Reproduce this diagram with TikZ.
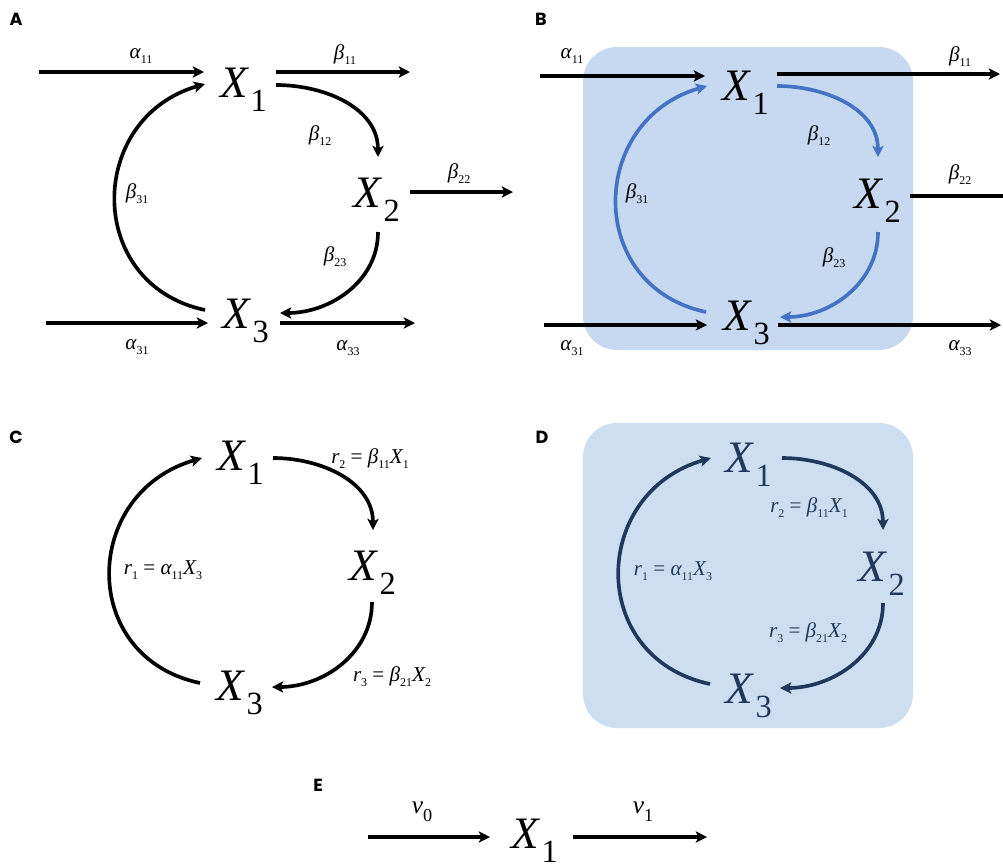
\documentclass[tikz,border=0pt]{standalone}
\usepackage{fontspec}
\setmainfont{Liberation Serif}
\newfontfamily\panelfont{Poppins}
\usetikzlibrary{arrows.meta,calc}

\definecolor{boxblue}{RGB}{198,217,240}
\definecolor{boxgrey}{RGB}{205,222,240}
\definecolor{flowblue}{RGB}{68,114,196}
\definecolor{navy}{RGB}{32,56,90}

% species X_i with a big lowered index
\newcommand{\spec}[1]{{\fontsize{32}{32}\selectfont\itshape X}\kern2pt\raisebox{-10.5pt}{\fontsize{23}{23}\selectfont #1}}
% coefficient with small index
\newcommand{\coef}[2]{{\itshape #1}\raisebox{-3.5pt}{\fontsize{8.5}{8.5}\selectfont #2}}
% rate law r_i = k X_j
\newcommand{\ratelaw}[4]{\coef{r}{#1}~=~\coef{#2}{#3}\coef{X}{#4}}

\begin{document}
\begin{tikzpicture}[
  x=0.025cm, y=-0.025cm,
  % styles
  species/.style={inner sep=0, anchor=base west},
  coeflabel/.style={inner sep=0, font=\fontsize{15}{15}\selectfont},
  vlabel/.style={inner sep=0, font=\fontsize{18}{18}\selectfont},
  panel/.style={inner sep=0, font=\panelfont\bfseries\fontsize{12.5}{12.5}\selectfont},
  flow/.style={line width=2.6pt, -{Stealth[length=8pt,width=8pt,inset=2pt]}},
  plain/.style={line width=2.6pt}
]
\useasboundingbox (0,0) rectangle (1003,864);

% shaded boxes
\fill[boxblue, rounded corners=0.85cm] (583,47) rectangle (913,350);
\fill[boxgrey, rounded corners=0.85cm] (583,423) rectangle (913,728);

% panel letters
\node[panel] (pA) at (16,19)   {A};
\node[panel] (pB) at (541,19)  {B};
\node[panel] (pC) at (16,437)  {C};
\node[panel] (pD) at (542,437) {D};
\node[panel] (pE) at (318,785) {E};

% ---------- panel A ----------
\node[species] (A1) at (220,97)  {\spec{1}};
\node[species] (A2) at (353,207) {\spec{2}};
\node[species] (A3) at (222,328) {\spec{3}};

\coordinate (inA1)  at (39,72);
\coordinate (outA1) at (410,72);
\coordinate (outA2) at (513,192);
\coordinate (inA3)  at (46,323);
\coordinate (outA3) at (415,323);

\draw[flow] (inA1) -- ($(A1.base west)+(-16,-25)$);
\draw[flow] ($(A1.base west)+(56,-25)$) -- (outA1);
\draw[flow] ($(A1.base west)+(56,-12)$) to[out=0,in=90] ($(A2.base west)+(25,-50)$);
\draw[flow] ($(A2.base west)+(57,-15)$) -- (outA2);
\draw[flow] ($(A2.base west)+(25,25)$) to[out=-90,in=0] ($(A3.base west)+(58,-15)$);
\draw[flow] ($(A3.base west)+(-17,-18)$) to[out=168,in=196,looseness=1.4] ($(A1.base west)+(-15,-13)$);
\draw[flow] (inA3) -- ($(A3.base west)+(-14,-5)$);
\draw[flow] ($(A3.base west)+(58,-5)$) -- (outA3);

\node[coeflabel] (a11A) at (141,56)  {\coef{α}{11}};
\node[coeflabel] (b11A) at (345,55)  {\coef{β}{11}};
\node[coeflabel] (b12A) at (320,136) {\coef{β}{12}};
\node[coeflabel] (b22A) at (459,174) {\coef{β}{22}};
\node[coeflabel] (b31A) at (137,194) {\coef{β}{31}};
\node[coeflabel] (b23A) at (335,257) {\coef{β}{23}};
\node[coeflabel] (a31A) at (137,347) {\coef{α}{31}};
\node[coeflabel] (a33A) at (348,348) {\coef{α}{33}};

% ---------- panel B ----------
\node[species] (B1) at (722,100) {\spec{1}};
\node[species] (B2) at (854,208) {\spec{2}};
\node[species] (B3) at (723,330) {\spec{3}};

\coordinate (inB1)  at (540,76);
\coordinate (outB1) at (1000,74);
\coordinate (outB2) at (1003,196);
\coordinate (inB3)  at (544,325);
\coordinate (outB3) at (1001,325);

\draw[flow] (inB1) -- ($(B1.base west)+(-17,-24)$);
\draw[flow] ($(B1.base west)+(55,-26)$) -- (outB1);
\draw[flow, flowblue] ($(B1.base west)+(55,-14)$) to[out=0,in=90] ($(B2.base west)+(24,-51)$);
\draw[plain] ($(B2.base west)+(56,-12)$) -- (outB2);
\draw[flow, flowblue] ($(B2.base west)+(24,24)$) to[out=-90,in=0] ($(B3.base west)+(57,-13)$);
\draw[flow, flowblue] ($(B3.base west)+(-17,-18)$) to[out=168,in=196,looseness=1.4] ($(B1.base west)+(-15,-14)$);
\draw[flow] (inB3) -- ($(B3.base west)+(-16,-5)$);
\draw[flow] ($(B3.base west)+(55,-5)$) -- (outB3);

\node[coeflabel] (a11B) at (572,56)  {\coef{α}{11}};
\node[coeflabel] (b11B) at (960,57)  {\coef{β}{11}};
\node[coeflabel] (b12B) at (819,136) {\coef{β}{12}};
\node[coeflabel] (b22B) at (960,175) {\coef{β}{22}};
\node[coeflabel] (b31B) at (637,194) {\coef{β}{31}};
\node[coeflabel] (b23B) at (834,258) {\coef{β}{23}};
\node[coeflabel] (a31B) at (572,348) {\coef{α}{31}};
\node[coeflabel] (a33B) at (960,348) {\coef{α}{33}};

% ---------- panel C ----------
\node[species] (C1) at (217,470) {\spec{1}};
\node[species] (C2) at (349,580) {\spec{2}};
\node[species] (C3) at (216,700) {\spec{3}};

\draw[flow] ($(C1.base west)+(56,-12)$) to[out=0,in=90] ($(C2.base west)+(24,-50)$);
\draw[flow] ($(C2.base west)+(23,22)$) to[out=-90,in=0] ($(C3.base west)+(56,-13)$);
\draw[flow] ($(C3.base west)+(-16,-17)$) to[out=168,in=196,looseness=1.42] ($(C1.base west)+(-15,-12)$);

\node[coeflabel] (r2C) at (370,459) {\ratelaw{2}{β}{11}{1}};
\node[coeflabel] (r1C) at (163,570) {\ratelaw{1}{α}{11}{3}};
\node[coeflabel] (r3C) at (392,677) {\ratelaw{3}{β}{21}{2}};

% ---------- panel D ----------
\node[species, text=navy] (D1) at (725,472) {\spec{1}};
\node[species, text=navy] (D2) at (858,581) {\spec{2}};
\node[species, text=navy] (D3) at (725,703) {\spec{3}};

\draw[flow, navy] ($(D1.base west)+(57,-14)$) to[out=0,in=90] ($(D2.base west)+(25,-51)$);
\draw[flow, navy] ($(D2.base west)+(25,22)$) to[out=-90,in=0] ($(D3.base west)+(55,-15)$);
\draw[flow, navy] ($(D3.base west)+(-15,-19)$) to[out=168,in=196,looseness=1.42] ($(D1.base west)+(-14,-14)$);

\node[coeflabel, text=navy] (r2D) at (809,508) {\ratelaw{2}{β}{11}{1}};
\node[coeflabel, text=navy] (r1D) at (673,571) {\ratelaw{1}{α}{11}{3}};
\node[coeflabel, text=navy] (r3D) at (808,633) {\ratelaw{3}{β}{21}{2}};

% ---------- panel E ----------
\node[species] (E1) at (511,848) {\spec{1}};

\coordinate (inE1)  at (368,837);
\coordinate (outE1) at (707,837);

\draw[flow] (inE1) -- ($(E1.base west)+(-21,-11)$);
\draw[flow] ($(E1.base west)+(62,-11)$) -- (outE1);

\node[vlabel] (v0E) at (422,812) {\textit{v}\raisebox{-5.7pt}{\fontsize{13}{13}\selectfont 0}};
\node[vlabel] (v1E) at (643,812) {\textit{v}\raisebox{-5.7pt}{\fontsize{13}{13}\selectfont 1}};

\end{tikzpicture}
\end{document}
